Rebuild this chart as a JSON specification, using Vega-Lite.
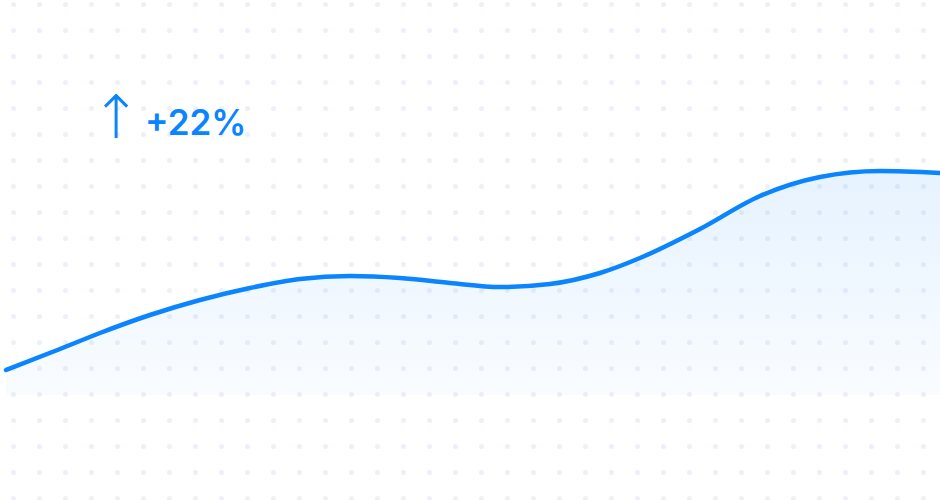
{
  "$schema": "https://vega.github.io/schema/vega-lite/v6.json",
  "width": 940,
  "height": 500,
  "autosize": {"type": "fit", "contains": "padding"},
  "padding": 0,
  "background": "#ffffff",
  "config": {"view": {"stroke": null}},
  "data": {
    "values": [
      {"t": 6, "v": 130},
      {"t": 60, "v": 151},
      {"t": 100, "v": 167},
      {"t": 150, "v": 185},
      {"t": 200, "v": 200},
      {"t": 250, "v": 212},
      {"t": 300, "v": 221},
      {"t": 350, "v": 224},
      {"t": 400, "v": 222},
      {"t": 450, "v": 217},
      {"t": 500, "v": 213},
      {"t": 550, "v": 216},
      {"t": 600, "v": 227},
      {"t": 640, "v": 242},
      {"t": 700, "v": 271},
      {"t": 760, "v": 304},
      {"t": 820, "v": 323},
      {"t": 880, "v": 329},
      {"t": 942, "v": 327}
    ]
  },
  "encoding": {
    "x": {
      "field": "t",
      "type": "quantitative",
      "scale": {"domain": [0, 940], "nice": false, "zero": false},
      "axis": {
        "values": [13, 39, 65, 91, 117, 143, 169, 195, 221, 247, 273, 299, 325, 351, 377, 403, 429, 455, 481, 507, 533, 559, 585, 611, 637, 663, 689, 715, 741, 767, 793, 819, 845, 871, 897, 923],
        "grid": true,
        "gridDash": [0, 26],
        "gridDashOffset": 22,
        "gridCap": "round",
        "gridWidth": 5,
        "gridColor": "#edf0f8",
        "labels": false,
        "ticks": false,
        "domain": false,
        "title": null,
        "minExtent": 0,
        "maxExtent": 0
      }
    },
    "y": {
      "field": "v",
      "type": "quantitative",
      "scale": {"domain": [0, 500], "nice": false, "zero": false},
      "axis": null
    }
  },
  "layer": [
    {
      "mark": {
        "type": "area",
        "interpolate": "monotone",
        "clip": true,
        "color": {
          "gradient": "linear",
          "x1": 0, "y1": 0, "x2": 0, "y2": 1,
          "stops": [
            {"offset": 0, "color": "rgba(10,132,255,0.10)"},
            {"offset": 1, "color": "rgba(10,132,255,0.025)"}
          ]
        }
      },
      "encoding": {"y2": {"datum": 105}}
    },
    {
      "mark": {"type": "line", "interpolate": "monotone", "clip": true, "color": "#0a84ff", "strokeWidth": 4.5, "strokeCap": "round"},
      "encoding": {}
    },
    {
      "data": {"values": [{"t": 116, "v": 362, "label": "↑"}]},
      "mark": {"type": "text", "align": "center", "baseline": "alphabetic", "font": "DejaVu Sans", "fontWeight": 200, "fontSize": 60, "color": "#0a84ff"},
      "encoding": {"text": {"field": "label"}}
    },
    {
      "data": {"values": [{"t": 145, "v": 365, "label": "+22%"}]},
      "mark": {"type": "text", "align": "left", "baseline": "alphabetic", "font": "Inter", "fontWeight": 600, "fontSize": 35, "color": "#0a84ff"},
      "encoding": {"text": {"field": "label"}}
    }
  ]
}
